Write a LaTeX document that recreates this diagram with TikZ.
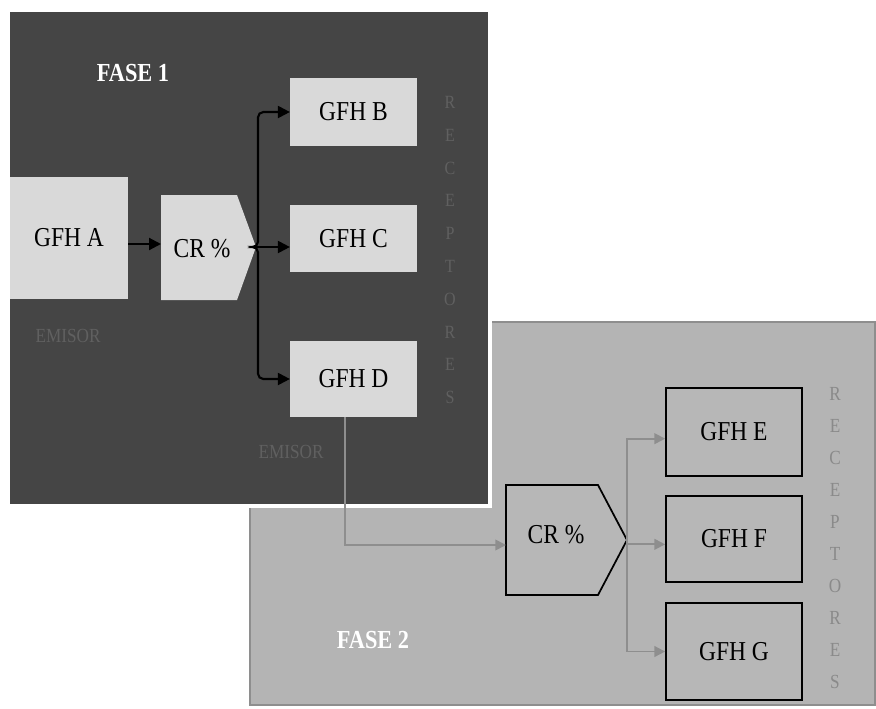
\documentclass[tikz,border=0pt]{standalone}
\usepackage{fontspec}
\setmainfont[FakeStretch=0.86]{Liberation Serif}
\usetikzlibrary{arrows.meta}
\definecolor{darkbg}{HTML}{454545}
\definecolor{lightbg}{HTML}{B4B4B4}
\definecolor{boxlight}{HTML}{D9D9D9}
\definecolor{boxmid}{HTML}{B7B7B7}
\definecolor{grayarr}{HTML}{8E8E8E}
\definecolor{faint1}{HTML}{606060}
\definecolor{faint2}{HTML}{8A8A8A}
\tikzset{
  lbox/.style={fill=boxlight, draw=none, inner sep=0pt, font=\fontsize{20.5}{22}\selectfont},
  mbox/.style={fill=boxmid, draw=black, line width=1.3pt, inner sep=0pt, font=\fontsize{20.5}{22}\selectfont},
  blackarr/.style={draw=black, line width=1.6pt, -{Triangle[length=9pt,width=9pt]}},
  grayarrow/.style={draw=grayarr, line width=1.3pt, -{Triangle[length=8pt,width=8pt]}},
  fasetxt/.style={text=white, font=\bfseries\fontsize{19.5}{22}\selectfont},
  emisor/.style={font=\fontsize{15}{16}\selectfont},
  vert/.style={align=center, inner sep=0pt}
}
\begin{document}
\begin{tikzpicture}[x=0.75pt,y=-0.75pt]
\useasboundingbox (0,0) rectangle (876,708);
\fill[white] (0,0) rectangle (876,708);
% phase 2 panel
\filldraw[fill=lightbg, draw=grayarr, line width=1pt] (250,322) rectangle (875,705);
% phase 1 panel
\filldraw[fill=darkbg, draw=white, line width=3pt] (8,10) rectangle (490,506);

% phase 1 nodes
\node[lbox, minimum width=88.5pt, minimum height=92pt] (A) at (69,238) {GFH A};
\fill[boxlight] (161,195) -- (237,195) -- (256,247) -- (237,300) -- (161,300) -- cycle;
\coordinate (cr1tip) at (256,247);
\node[font=\fontsize{20.5}{22}\selectfont, inner sep=0pt] (cr1) at (202,249) {CR \%};
\coordinate (cr1w) at (161,244);
\node[lbox, minimum width=95pt, minimum height=51pt] (B) at (353.5,112) {GFH B};
\node[lbox, minimum width=95pt, minimum height=50pt] (C) at (353.5,238.5) {GFH C};
\node[lbox, minimum width=95pt, minimum height=57pt] (D) at (353.5,379) {GFH D};

\draw[blackarr] (A.east |- cr1w) -- (cr1w);
\draw[blackarr, rounded corners=4pt] (cr1tip) -- ++(2,0) |- (B.west);
\draw[blackarr] (cr1tip) -- (C.west |- cr1tip);
\draw[blackarr, rounded corners=4pt] (cr1tip) -- ++(2,0) |- (D.west);

\node[fasetxt] (f1) at (133,73) {FASE 1};
\node[emisor, text=faint1] (em1) at (68,336) {EMISOR};
\node[emisor, text=faint1] (em2) at (291,452) {EMISOR};
\node[vert, text=faint1, font=\fontsize{14}{24.6}\selectfont] (rec1) at (450,250) {R\\E\\C\\E\\P\\T\\O\\R\\E\\S};

% phase 2 nodes
\filldraw[fill=boxmid, draw=black, line width=1.3pt] (506,485) -- (598,485) -- (627,540) -- (598,595) -- (506,595) -- cycle;
\coordinate (cr2tip) at (627,540);
\coordinate (cr2w) at (506,545);
\node[font=\fontsize{20.5}{22}\selectfont, inner sep=0pt] (cr2) at (556,535) {CR \%};
\node[mbox, minimum width=102pt, minimum height=66pt] (E) at (734,432) {GFH E};
\node[mbox, minimum width=102pt, minimum height=64.5pt] (F) at (734,539) {GFH F};
\node[mbox, minimum width=102pt, minimum height=72.5pt] (G) at (734,651.5) {GFH G};

\draw[grayarrow] (D.south -| 345,0) |- (cr2w);
\draw[grayarrow] (cr2tip) |- ([yshift=-5pt]E.west);
\draw[grayarrow] (cr2tip) |- ([yshift=-4pt]F.west);
\draw[grayarrow] (cr2tip) |- (G.west);

\node[fasetxt] (f2) at (373,640) {FASE 2};
\node[vert, text=faint2, font=\fontsize{15}{24}\selectfont] (rec2) at (835,538) {R\\E\\C\\E\\P\\T\\O\\R\\E\\S};
\end{tikzpicture}
\end{document}
